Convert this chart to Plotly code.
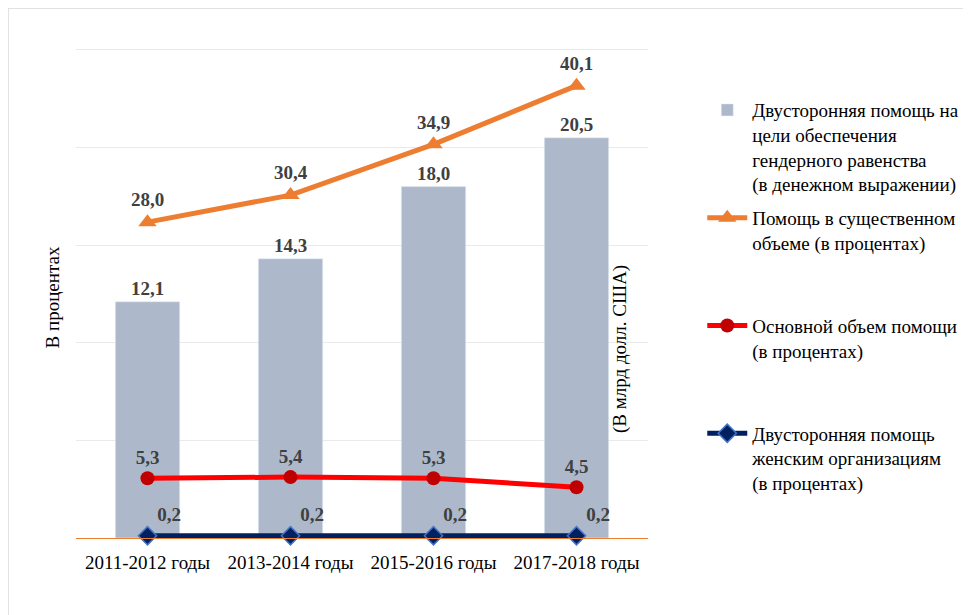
import plotly.graph_objects as go

categories = ["2011-2012 годы", "2013-2014 годы", "2015-2016 годы", "2017-2018 годы"]
bilateral_usd = [12.1, 14.3, 18.0, 20.5]
significant_pct = [28.0, 30.4, 34.9, 40.1]
principal_pct = [5.3, 5.4, 5.3, 4.5]
womens_org_pct = [0.2, 0.2, 0.2, 0.2]

names = [
    "Двусторонняя помощь на<br>цели обеспечения<br>гендерного равенства<br>(в денежном выражении)",
    "Помощь в существенном<br>объеме (в процентах)<br> <br> ",
    "Основной объем помощи<br>(в процентах)<br> <br> ",
    "Двусторонняя помощь<br>женским организациям<br>(в процентах)<br> ",
]

def fmt(v):
    return f"{v:.1f}".replace(".", ",")

FONT = "Liberation Serif"
FS = 19
LBL = dict(family=FONT, size=FS, color="#404040", weight="bold")

fig = go.Figure()
fig.add_trace(go.Bar(
    x=categories, y=bilateral_usd, name=names[0], yaxis="y",
    marker=dict(color="#ADB9CA"), width=0.45,
    text=[fmt(v) for v in bilateral_usd], textposition="outside",
    textfont=LBL, cliponaxis=False, legendgroup="a",
))
fig.add_trace(go.Scatter(
    x=categories, y=significant_pct, name=names[1], mode="lines+markers+text",
    yaxis="y2",
    line=dict(color="#ED7D31", width=5),
    marker=dict(symbol="triangle-up", size=16, color="#ED7D31"),
    text=[fmt(v) for v in significant_pct], textposition="top center",
    textfont=LBL, cliponaxis=False, legendgroup="b",
))
fig.add_trace(go.Scatter(
    x=categories, y=principal_pct, name=names[2], mode="lines+markers+text",
    yaxis="y2",
    line=dict(color="#FF0000", width=5),
    marker=dict(symbol="circle", size=14, color="#C00000"),
    text=[fmt(v) for v in principal_pct], textposition="top center",
    textfont=LBL, cliponaxis=False, legendgroup="c",
))
fig.add_trace(go.Scatter(
    x=categories, y=womens_org_pct, name=names[3], mode="lines+markers+text",
    yaxis="y2",
    line=dict(color="#002060", width=5),
    marker=dict(symbol="diamond", size=14, color="#002060",
                line=dict(color="#4472C4", width=1.5)),
    text=[fmt(v) for v in womens_org_pct], textposition="top right",
    textfont=LBL, cliponaxis=False, legendgroup="d",
))

fig.update_layout(
    width=971, height=615,
    margin=dict(l=68, r=331, t=40, b=85, autoexpand=False),
    paper_bgcolor="white", plot_bgcolor="white",
    font=dict(family=FONT, size=FS, color="#000000"),
    showlegend=True,
    legend=dict(
        xref="container", yref="container", x=0.715, y=0.865,
        xanchor="left", yanchor="top", valign="top",
        traceorder="grouped", tracegroupgap=6, maxheight=600,
        font=dict(family=FONT, size=FS, color="#000000"),
        itemwidth=40, bgcolor="rgba(0,0,0,0)",
    ),
    xaxis=dict(
        showgrid=False, showline=True, linecolor="#ED7D31", linewidth=1,
        ticks="", tickfont=dict(family=FONT, size=FS, color="#000000"),
        ticklabelstandoff=7, zeroline=False,
    ),
    yaxis=dict(
        range=[0, 25.1], dtick=5,
        showgrid=True, gridcolor="#EAEAEA", gridwidth=1,
        showticklabels=False, zeroline=False, showline=False,
    ),
    yaxis2=dict(
        range=[0, 43.44], overlaying="y", side="right",
        showgrid=False, showticklabels=False, zeroline=False, showline=False,
    ),
    annotations=[
        dict(text="В процентах", xref="paper", yref="paper",
             x=-0.063, y=0.492, textangle=-90, showarrow=False,
             font=dict(family=FONT, size=FS, color="#000000")),
        dict(text="(В млрд долл. США)", xref="paper", yref="paper",
             x=0.974, y=0.386, textangle=-90, showarrow=False,
             font=dict(family=FONT, size=FS, color="#000000")),
    ],
    shapes=[
        dict(type="rect", xref="paper", yref="paper",
             x0=-0.1189, x1=2.0, y0=-1.0, y1=1.0816,
             line=dict(color="#D9D9D9", width=1.5), fillcolor="rgba(0,0,0,0)"),
    ],
)

fig.write_html("out.html")
